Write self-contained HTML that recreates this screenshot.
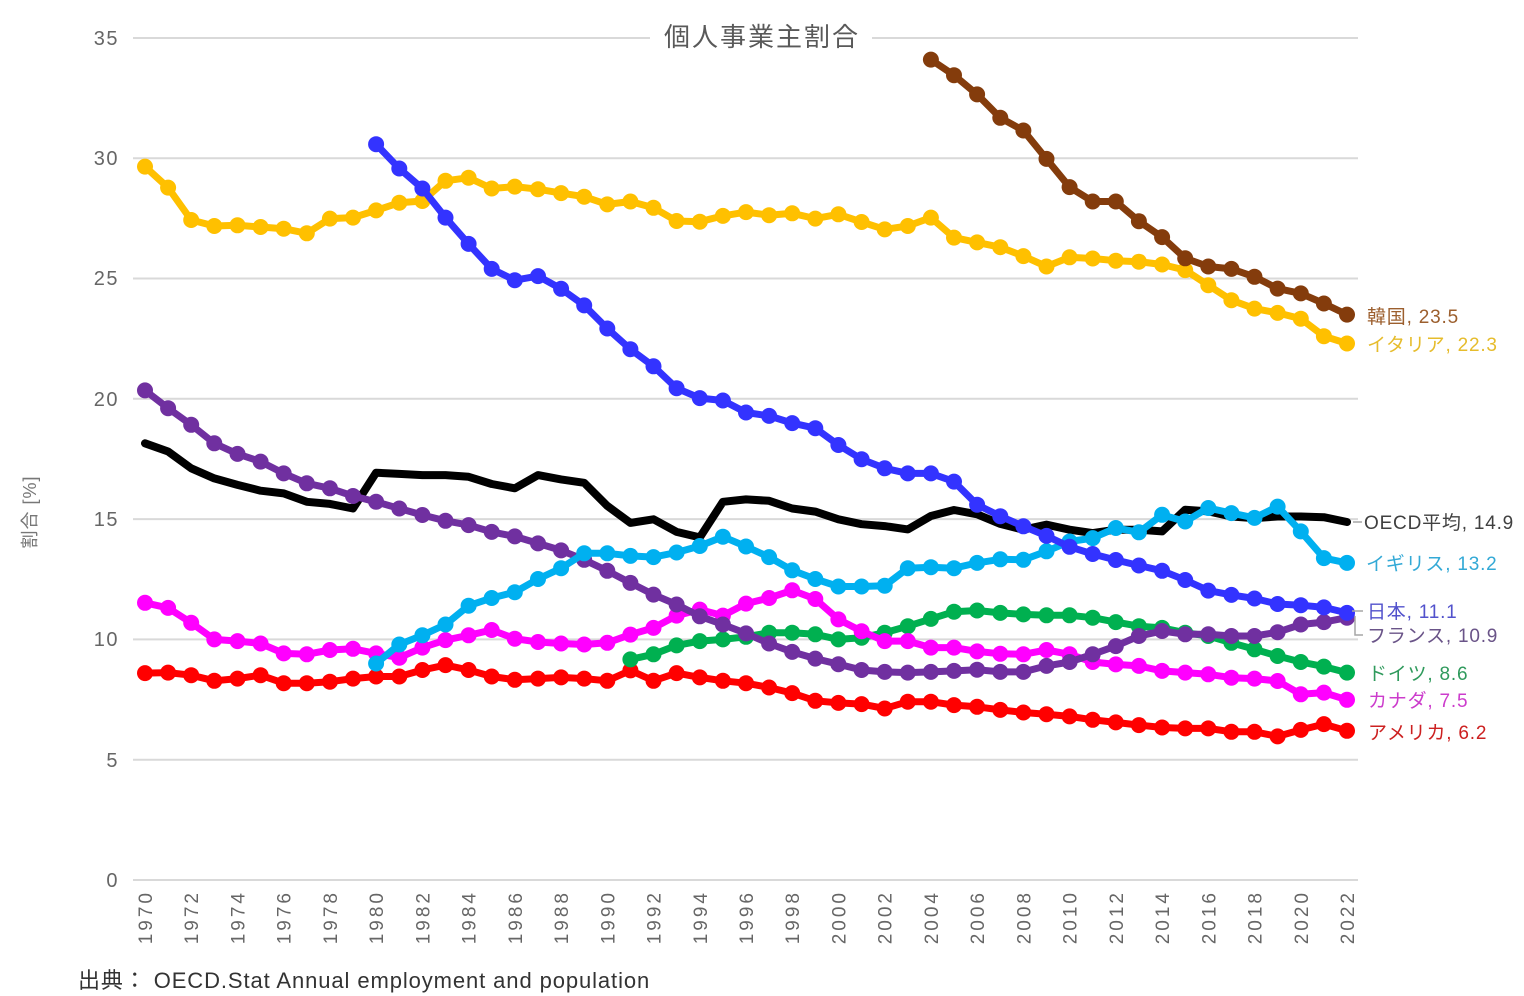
<!DOCTYPE html>
<html>
<head>
<meta charset="utf-8">
<style>
html,body{margin:0;padding:0;background:#fff;}
body{width:1524px;height:996px;overflow:hidden;}
svg{display:block;}
text{font-family:"Liberation Sans","Noto Sans CJK JP",sans-serif;}
</style>
</head>
<body>
<svg id="chart" width="1524" height="996" viewBox="0 0 1524 996" xmlns="http://www.w3.org/2000/svg">
  <rect x="0" y="0" width="1524" height="996" fill="#fff"/>
  <g stroke="#d9d9d9" stroke-width="2">
    <line x1="133" y1="38" x2="1358" y2="38"/>
    <line x1="133" y1="158.2" x2="1358" y2="158.2"/>
    <line x1="133" y1="278.5" x2="1358" y2="278.5"/>
    <line x1="133" y1="398.8" x2="1358" y2="398.8"/>
    <line x1="133" y1="519.1" x2="1358" y2="519.1"/>
    <line x1="133" y1="639.4" x2="1358" y2="639.4"/>
    <line x1="133" y1="759.7" x2="1358" y2="759.7"/>
    <line x1="133" y1="880" x2="1358" y2="880"/>
  </g>
  <g font-size="20" fill="#666" text-anchor="end" letter-spacing="1.5">
    <text x="119" y="45">35</text>
    <text x="119" y="165">30</text>
    <text x="119" y="285">25</text>
    <text x="119" y="406">20</text>
    <text x="119" y="526">15</text>
    <text x="119" y="646">10</text>
    <text x="119" y="767">5</text>
    <text x="119" y="887">0</text>
  </g>
  <text transform="translate(36,512) rotate(-90)" font-size="18" fill="#777" text-anchor="middle" letter-spacing="1">割合 [%]</text>
  <rect x="650" y="18" width="222" height="38" fill="#fff"/>
  <text x="762" y="46" font-size="26" fill="#595959" text-anchor="middle" letter-spacing="2">個人事業主割合</text>
  <g id="xl" font-size="19" fill="#666" text-anchor="end" letter-spacing="3">
    <text transform="translate(152,890) rotate(-90)">1970</text>
    <text transform="translate(198.2,890) rotate(-90)">1972</text>
    <text transform="translate(244.5,890) rotate(-90)">1974</text>
    <text transform="translate(290.7,890) rotate(-90)">1976</text>
    <text transform="translate(336.9,890) rotate(-90)">1978</text>
    <text transform="translate(383.2,890) rotate(-90)">1980</text>
    <text transform="translate(429.4,890) rotate(-90)">1982</text>
    <text transform="translate(475.6,890) rotate(-90)">1984</text>
    <text transform="translate(521.8,890) rotate(-90)">1986</text>
    <text transform="translate(568.1,890) rotate(-90)">1988</text>
    <text transform="translate(614.3,890) rotate(-90)">1990</text>
    <text transform="translate(660.5,890) rotate(-90)">1992</text>
    <text transform="translate(706.8,890) rotate(-90)">1994</text>
    <text transform="translate(753,890) rotate(-90)">1996</text>
    <text transform="translate(799.2,890) rotate(-90)">1998</text>
    <text transform="translate(845.5,890) rotate(-90)">2000</text>
    <text transform="translate(891.7,890) rotate(-90)">2002</text>
    <text transform="translate(937.9,890) rotate(-90)">2004</text>
    <text transform="translate(984.1,890) rotate(-90)">2006</text>
    <text transform="translate(1030.4,890) rotate(-90)">2008</text>
    <text transform="translate(1076.6,890) rotate(-90)">2010</text>
    <text transform="translate(1122.8,890) rotate(-90)">2012</text>
    <text transform="translate(1169.1,890) rotate(-90)">2014</text>
    <text transform="translate(1215.3,890) rotate(-90)">2016</text>
    <text transform="translate(1261.5,890) rotate(-90)">2018</text>
    <text transform="translate(1307.8,890) rotate(-90)">2020</text>
    <text transform="translate(1354,890) rotate(-90)">2022</text>
  </g>
  <g id="series"></g>
  <g stroke="#a6a6a6" stroke-width="1.5" fill="none">
    <line x1="1353" y1="522" x2="1362" y2="522"/>
    <line x1="1352" y1="611" x2="1363" y2="611"/>
    <polyline points="1355,616 1355,635 1363,635"/>
  </g>
  <g font-size="19" letter-spacing="0.8">
    <text x="1367" y="323" fill="#9c5f2e">韓国, 23.5</text>
    <text x="1367" y="351" fill="#e6bc2c">イタリア, 22.3</text>
    <text x="1364" y="529" fill="#404040">OECD平均, 14.9</text>
    <text x="1366" y="570" fill="#33a9d6">イギリス, 13.2</text>
    <text x="1367" y="618" fill="#5252cc">日本, 11.1</text>
    <text x="1367" y="642" fill="#6a5488">フランス, 10.9</text>
    <text x="1368" y="680" fill="#2f9a5c">ドイツ, 8.6</text>
    <text x="1368" y="707" fill="#cc3ccc">カナダ, 7.5</text>
    <text x="1368" y="739" fill="#cc2020">アメリカ, 6.2</text>
  </g>
  <text x="78" y="988" font-size="22" fill="#333" letter-spacing="0.9">出典： OECD.Stat Annual employment and population</text>
</svg>
<script>
(function(){
  var NS="http://www.w3.org/2000/svg";
  function X(y){return 145+(y-1970)*23.115;}
  function Y(v){return 880-v*24.06;}
  var S=[
    {c:"#000000",s:1970,m:false,w:8,d:[18.15,17.81,17.11,16.69,16.42,16.18,16.07,15.72,15.63,15.44,16.93,16.88,16.83,16.83,16.76,16.46,16.28,16.83,16.65,16.51,15.55,14.84,14.99,14.47,14.24,15.72,15.82,15.76,15.44,15.31,14.99,14.79,14.71,14.57,15.13,15.38,15.2,14.8,14.56,14.77,14.56,14.42,14.56,14.56,14.49,15.39,15.32,15.11,15.04,15.11,15.11,15.08,14.88]},
    {c:"#ff0000",s:1970,m:true,w:7,d:[8.6,8.62,8.51,8.28,8.37,8.51,8.18,8.18,8.24,8.37,8.46,8.46,8.73,8.93,8.73,8.46,8.32,8.37,8.42,8.37,8.28,8.71,8.28,8.6,8.42,8.28,8.18,8.0,7.77,7.45,7.36,7.31,7.13,7.41,7.41,7.27,7.2,7.07,6.96,6.89,6.8,6.66,6.55,6.44,6.34,6.3,6.3,6.16,6.16,5.97,6.24,6.48,6.2]},
    {c:"#00b050",s:1991,m:true,w:7,d:[9.17,9.38,9.75,9.93,10.0,10.11,10.28,10.28,10.21,10.0,10.07,10.28,10.55,10.85,11.15,11.2,11.1,11.04,11.0,11.0,10.9,10.72,10.55,10.48,10.28,10.14,9.86,9.59,9.31,9.06,8.87,8.62]},
    {c:"#ff00ff",s:1970,m:true,w:7,d:[11.52,11.31,10.69,10.0,9.93,9.83,9.42,9.38,9.56,9.61,9.42,9.24,9.66,9.97,10.17,10.39,10.03,9.89,9.83,9.79,9.86,10.2,10.48,10.99,11.24,10.99,11.49,11.72,12.04,11.68,10.83,10.34,9.93,9.93,9.66,9.66,9.5,9.4,9.38,9.56,9.38,9.06,8.96,8.9,8.69,8.62,8.55,8.41,8.37,8.27,7.72,7.79,7.49]},
    {c:"#7030a0",s:1970,m:true,w:7,d:[20.35,19.61,18.92,18.15,17.71,17.39,16.9,16.49,16.28,15.96,15.72,15.44,15.17,14.93,14.75,14.47,14.28,13.99,13.7,13.31,12.85,12.35,11.86,11.45,10.96,10.62,10.25,9.83,9.48,9.2,8.97,8.73,8.65,8.62,8.65,8.69,8.74,8.65,8.65,8.9,9.06,9.38,9.72,10.14,10.35,10.21,10.21,10.14,10.14,10.3,10.62,10.72,10.9]},
    {c:"#00b0f0",s:1980,m:true,w:7,d:[9.0,9.79,10.17,10.62,11.4,11.72,11.96,12.51,12.96,13.58,13.58,13.47,13.42,13.61,13.88,14.27,13.86,13.42,12.87,12.51,12.2,12.2,12.23,12.96,13.0,12.96,13.18,13.33,13.31,13.66,14.07,14.21,14.63,14.45,15.18,14.9,15.46,15.25,15.05,15.52,14.49,13.38,13.18]},
    {c:"#ffc000",s:1970,m:true,w:7,d:[29.65,28.78,27.43,27.18,27.21,27.14,27.07,26.88,27.49,27.53,27.83,28.15,28.22,29.06,29.19,28.74,28.82,28.71,28.55,28.4,28.08,28.2,27.94,27.39,27.36,27.6,27.76,27.63,27.71,27.49,27.67,27.35,27.04,27.18,27.53,26.7,26.5,26.3,25.93,25.5,25.88,25.83,25.74,25.7,25.58,25.35,24.72,24.1,23.75,23.57,23.33,22.6,22.3]},
    {c:"#3333ff",s:1980,m:true,w:7,d:[30.58,29.57,28.74,27.53,26.44,25.4,24.93,25.1,24.57,23.88,22.92,22.06,21.35,20.44,20.03,19.93,19.43,19.29,18.99,18.78,18.08,17.49,17.11,16.9,16.9,16.56,15.6,15.12,14.7,14.3,13.85,13.55,13.3,13.07,12.85,12.47,12.03,11.85,11.7,11.47,11.42,11.33,11.1]},
    {c:"#843c0c",s:2004,m:true,w:7,d:[34.1,33.45,32.65,31.68,31.15,29.97,28.8,28.2,28.2,27.38,26.72,25.84,25.5,25.4,25.07,24.58,24.38,23.96,23.5]}
  ];
  var g=document.getElementById("series");
  S.forEach(function(s){
    var pts=s.d.map(function(v,i){return X(s.s+i).toFixed(1)+","+Y(v).toFixed(1);});
    var pl=document.createElementNS(NS,"polyline");
    pl.setAttribute("points",pts.join(" "));
    pl.setAttribute("fill","none");
    pl.setAttribute("stroke",s.c);
    pl.setAttribute("stroke-width",s.w);
    pl.setAttribute("stroke-linejoin","round");
    pl.setAttribute("stroke-linecap","round");
    g.appendChild(pl);
    if(s.m){
      s.d.forEach(function(v,i){
        var c=document.createElementNS(NS,"circle");
        c.setAttribute("cx",X(s.s+i).toFixed(1));
        c.setAttribute("cy",Y(v).toFixed(1));
        c.setAttribute("r","8");
        c.setAttribute("fill",s.c);
        g.appendChild(c);
      });
    }
  });
})();
</script>
</body>
</html>
